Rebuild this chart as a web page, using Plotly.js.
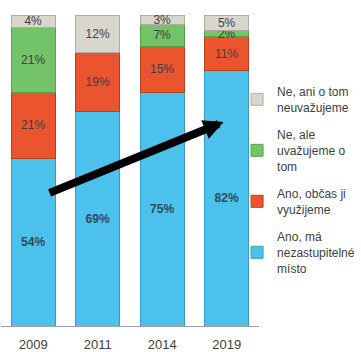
<!DOCTYPE html>
<html>
<head>
<meta charset="utf-8">
<script src="https://cdn.plot.ly/plotly-3.0.1.min.js"></script>
<style>html,body{margin:0;padding:0;background:#fff;}#chart{width:361px;height:352px;}</style>
</head>
<body>
<div id="chart"></div>
<script>
const years = ['2009', '2011', '2014', '2019'];
const seriesNames = [
  'Ano, má<br>nezastupitelné<br>místo',
  'Ano, občas ji<br>využijeme',
  'Ne, ale<br>uvažujeme o<br>tom',
  'Ne, ani o tom<br>neuvažujeme'
];
const anoNezastupitelne = [54, 69, 75, 82];
const anoObcas = [21, 19, 15, 11];
const neAleUvazujeme = [21, 0, 7, 2];
const neAniNeuvazujeme = [4, 12, 3, 5];

const colors = ['#4cc1ec', '#ea5530', '#73c468', '#d8d6cd'];
const lineColors = ['#3a9cc0', '#b8401f', '#55a04c', '#b0ada4'];
const values = [anoNezastupitelne, anoObcas, neAleUvazujeme, neAniNeuvazujeme];

const traces = values.map((v, i) => ({
  type: 'bar',
  x: years,
  y: v,
  name: seriesNames[i],
  legendgroup: 'g' + i,
  legendrank: 10 - i,
  marker: {color: colors[i], line: {color: lineColors[i], width: 1}},
  text: v.map(d => d > 0 ? d + '%' : ''),
  textposition: 'inside',
  insidetextanchor: 'middle',
  constraintext: 'none',
  textfont: i === 0
    ? {family: 'Liberation Sans, Arial, sans-serif', size: 12, color: '#2e4a60', weight: 'bold'}
    : {family: 'Liberation Sans, Arial, sans-serif', size: 12, color: '#404040'},
  hoverinfo: 'none'
}));

const layout = {
  width: 361,
  height: 352,
  barmode: 'stack',
  bargap: 0.32,
  margin: {l: 1, r: 97, t: 15, b: 26},
  paper_bgcolor: '#ffffff',
  plot_bgcolor: '#ffffff',
  showlegend: true,
  xaxis: {
    type: 'category',
    showline: true,
    linecolor: '#a0a0a0',
    linewidth: 1,
    ticks: '',
    ticklabelstandoff: 6,
    tickfont: {family: 'Liberation Sans, Arial, sans-serif', size: 13, color: '#404040'},
    fixedrange: true
  },
  yaxis: {
    range: [0, 100],
    visible: false,
    showgrid: false,
    zeroline: false,
    fixedrange: true
  },
  legend: {
    x: 0.915,
    xanchor: 'left',
    y: 0.80,
    yanchor: 'top',
    traceorder: 'grouped',
    tracegroupgap: 9,
    font: {family: 'Liberation Sans, Arial, sans-serif', size: 12, color: '#404040'},
    bgcolor: 'rgba(0,0,0,0)',
    itemwidth: 30
  },
  annotations: [{
    xref: 'x', yref: 'y', axref: 'x', ayref: 'y',
    x: 2.95, y: 65.6,
    ax: 0.23, ay: 42.6,
    showarrow: true,
    arrowhead: 2,
    arrowsize: 0.5,
    arrowwidth: 8,
    arrowcolor: '#000000',
    text: ''
  }]
};

Plotly.newPlot('chart', traces, layout, {displayModeBar: false, staticPlot: true});
</script>
</body>
</html>
